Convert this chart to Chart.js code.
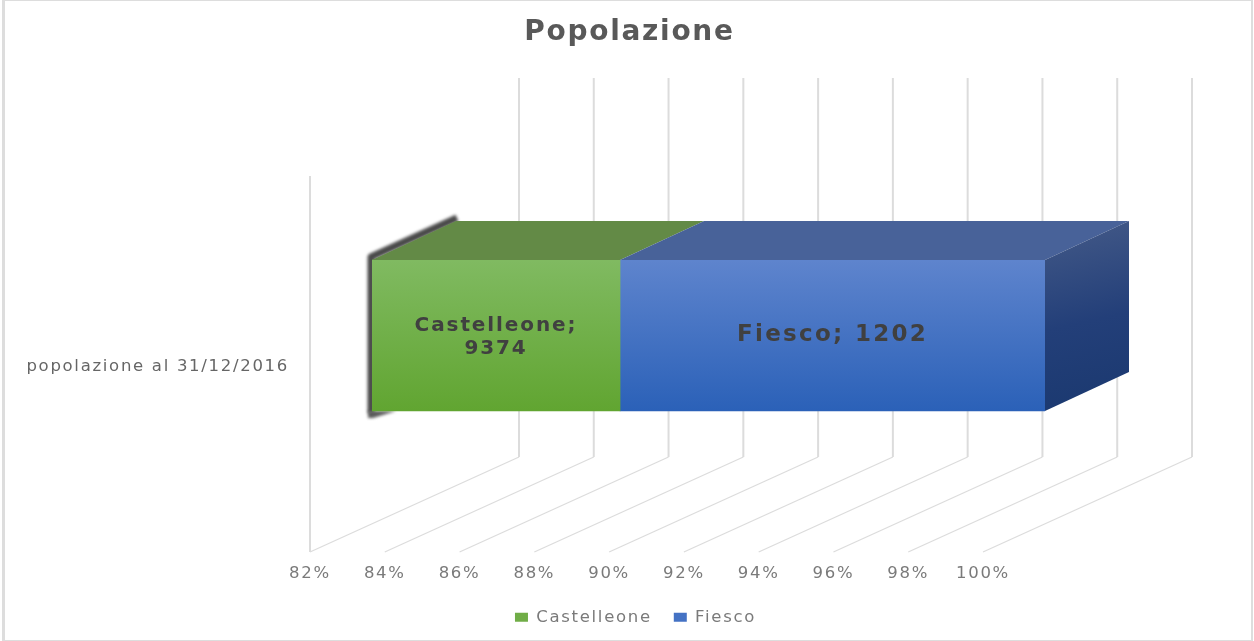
<!DOCTYPE html>
<html>
<head>
<meta charset="utf-8">
<script src="https://cdn.jsdelivr.net/npm/chart.js@4"></script>
<style>
  html, body { margin: 0; padding: 0; background: #fff; overflow: hidden; }
  canvas { display: block; }
</style>
</head>
<body>
<canvas id="myChart" width="1254" height="641"></canvas>
<script>
var categories = ['popolazione al 31/12/2016'];
var seriesNames = ['Castelleone', 'Fiesco'];
var castelleone = [9374];
var fiesco = [1202];
var tickValues = [82, 84, 86, 88, 90, 92, 94, 96, 98, 100];

// quota percentuale, come un grafico "in pila 100%"
var totale = castelleone[0] + fiesco[0];
function quota(v) { return v / totale * 100; }

// profondita della finta prospettiva
var DX = 84, DY = 39;       // barra
var WALL_DX = 209, WALL_DY = 95;  // pavimento
var SHIFT = 62;             // la barra sta a meta del pavimento
var FONT = '"DejaVu Sans"';
var SPACING = '1.7px';      // il testo dell'originale e stirato in larghezza

function grad(colTop, colBottom, fallback) {
  return function (c) {
    var s = c.chart.scales.y;
    if (!s || !c.chart.chartArea) return fallback;
    var yc = s.getPixelForValue(0);
    var g = c.chart.ctx.createLinearGradient(0, yc - 75, 0, yc + 75);
    g.addColorStop(0, colTop);
    g.addColorStop(1, colBottom);
    return g;
  };
}

function poly(ctx, pts, fill) {
  ctx.beginPath();
  pts.forEach(function (p, i) { i ? ctx.lineTo(p[0], p[1]) : ctx.moveTo(p[0], p[1]); });
  ctx.closePath();
  ctx.fillStyle = fill;
  ctx.fill();
}

var cornice = {
  id: 'cornice',
  beforeUpdate: function (chart) { chart.ctx.letterSpacing = SPACING; },
  afterLayout: function (chart) {
    // la legenda e un po' a destra del centro e piu in alto
    chart.legend.left += 6;
    chart.legend.right += 6;
    chart.legend.top -= 5.5;
    chart.legend.bottom -= 5.5;
  },
  beforeDraw: function (chart) {
    var ctx = chart.ctx;
    ctx.letterSpacing = SPACING;
    ctx.save();
    ctx.fillStyle = '#DDDDDD';
    ctx.fillRect(2, 0, 1250, 1);
    ctx.fillRect(2, 640, 1250, 1);
    ctx.fillRect(2, 0, 3, 641);
    ctx.fillRect(1251, 0, 2, 641);
    ctx.restore();
  }
};

var griglia3d = {
  id: 'griglia3d',
  beforeDatasetsDraw: function (chart) {
    var ctx = chart.ctx, x = chart.scales.x, a = chart.chartArea;
    ctx.save();
    ctx.strokeStyle = '#DCDCDC';
    tickValues.forEach(function (t) {
      var px = x.getPixelForValue(t) - SHIFT;
      ctx.lineWidth = 1.3;
      ctx.beginPath();
      ctx.moveTo(px, a.bottom);
      ctx.lineTo(px + WALL_DX, a.bottom - WALL_DY);
      ctx.stroke();
      ctx.lineWidth = 2;
      ctx.beginPath();
      ctx.moveTo(px + WALL_DX, a.bottom - WALL_DY);
      ctx.lineTo(px + WALL_DX, a.top - 41);
      ctx.stroke();
    });
    var x0 = x.getPixelForValue(tickValues[0]) - SHIFT;
    ctx.lineWidth = 2;
    ctx.beginPath();
    ctx.moveTo(x0, a.bottom);
    ctx.lineTo(x0, a.top + 57);
    ctx.stroke();

    // ombra scura sul bordo sinistro della barra
    var b = chart.getDatasetMeta(0).data[0];
    var l = a.left, top = b.y - b.height / 2, bot = b.y + b.height / 2;
    ctx.filter = 'blur(1.5px)';
    ctx.strokeStyle = '#4A4A4A';
    ctx.lineWidth = 7;
    ctx.lineJoin = 'round';
    ctx.beginPath();
    ctx.moveTo(l - 1, bot + 2);
    ctx.lineTo(l - 1, top - 3);
    ctx.lineTo(l + DX + 1, top - DY - 3);
    ctx.stroke();
    poly(ctx, [[l - 4, bot], [l - 4, bot + 7], [l + 1, bot + 7], [l + 24, bot]], '#5A5A5A');
    ctx.restore();
  }
};

var facce3d = {
  id: 'facce3d',
  afterDatasetsDraw: function (chart) {
    var ctx = chart.ctx, a = chart.chartArea;
    var tops = ['#638A46', '#486299'];
    ctx.save();
    [0, 1].forEach(function (i) {
      var b = chart.getDatasetMeta(i).data[0];
      var l = Math.max(b.base, a.left), r = b.x, t = b.y - b.height / 2;
      poly(ctx, [[l, t], [r, t], [r + DX, t - DY], [l + DX, t - DY]], tops[i]);
    });
    var e = chart.getDatasetMeta(1).data[0];
    var r = e.x, t = e.y - e.height / 2, f = e.y + e.height / 2;
    var g = ctx.createLinearGradient(r, t - DY, r + DX * 0.5, f);
    g.addColorStop(0, '#445A88');
    g.addColorStop(0.55, '#233F79');
    g.addColorStop(1, '#1B3970');
    poly(ctx, [[r, t], [r + DX, t - DY], [r + DX, f - DY], [r, f]], g);

    // etichette dati
    ctx.fillStyle = '#404040';
    ctx.textAlign = 'center';
    ctx.textBaseline = 'middle';
    var b0 = chart.getDatasetMeta(0).data[0];
    var cx0 = (Math.max(b0.base, a.left) + b0.x) / 2;
    ctx.font = 'bold 20px ' + FONT;
    ctx.letterSpacing = '1.9px';
    ctx.fillText(seriesNames[0] + ';', cx0, b0.y - 10);
    ctx.fillText(String(castelleone[0]), cx0, b0.y + 13);
    ctx.font = 'bold 23px ' + FONT;
    ctx.letterSpacing = '2.3px';
    ctx.fillText(seriesNames[1] + '; ' + fiesco[0], (e.base + e.x) / 2, e.y);
    ctx.restore();
  }
};

new Chart(document.getElementById('myChart').getContext('2d'), {
  type: 'bar',
  data: {
    labels: categories,
    datasets: [
      { label: seriesNames[0], data: castelleone.map(quota), barThickness: 151,
        backgroundColor: grad('#80BA61', '#61A531', '#70AD47') },
      { label: seriesNames[1], data: fiesco.map(quota), barThickness: 151,
        backgroundColor: grad('#5E84CD', '#2B61B8', '#4472C4') }
    ]
  },
  options: {
    indexAxis: 'y',
    responsive: false,
    animation: false,
    layout: { padding: { left: 5 } },
    scales: {
      x: {
        stacked: true,
        min: 82,
        max: 100,
        grid: { display: false },
        border: { display: false },
        afterFit: function (s) { s.height = 40.5; },
        afterBuildTicks: function (s) { s.ticks = tickValues.map(function (v) { return { value: v }; }); },
        ticks: {
          autoSkip: false,
          maxRotation: 0,
          padding: 4,
          labelOffset: -SHIFT,
          color: '#7A7A7A',
          font: { family: FONT, size: 16.5 },
          callback: function (v) { return v + '%'; }
        }
      },
      y: {
        stacked: true,
        grid: { display: false },
        border: { display: false },
        afterFit: function (s) {
          s.width = 367;
          s.paddingTop = 0;     // altrimenti il padding dei tick limita l'area
          s.paddingBottom = 0;
        },
        ticks: {
          padding: 75,
          labelOffset: 31.5,
          color: '#666666',
          font: { family: FONT, size: 16.5 }
        }
      },
      destra: {
        type: 'category',
        position: 'right',
        labels: categories,
        grid: { display: false },
        border: { display: false },
        ticks: { display: false },
        afterFit: function (s) { s.width = 209; }
      }
    },
    plugins: {
      title: {
        display: true,
        text: 'Popolazione',
        color: '#595959',
        font: { family: FONT, size: 28, weight: 'bold' },
        padding: { top: 16, bottom: 69.4 }
      },
      legend: {
        position: 'bottom',
        labels: {
          color: '#7A7A7A',
          font: { family: FONT, size: 16.5 },
          boxWidth: 13,
          boxHeight: 9,
          padding: 22,
          generateLabels: function () {
            return [
              { text: seriesNames[0], fillStyle: '#70AD47', strokeStyle: '#70AD47', lineWidth: 0, fontColor: '#7A7A7A' },
              { text: seriesNames[1], fillStyle: '#4472C4', strokeStyle: '#4472C4', lineWidth: 0, fontColor: '#7A7A7A' }
            ];
          }
        }
      },
      tooltip: { enabled: false }
    }
  },
  plugins: [cornice, griglia3d, facce3d]
});
</script>
</body>
</html>
